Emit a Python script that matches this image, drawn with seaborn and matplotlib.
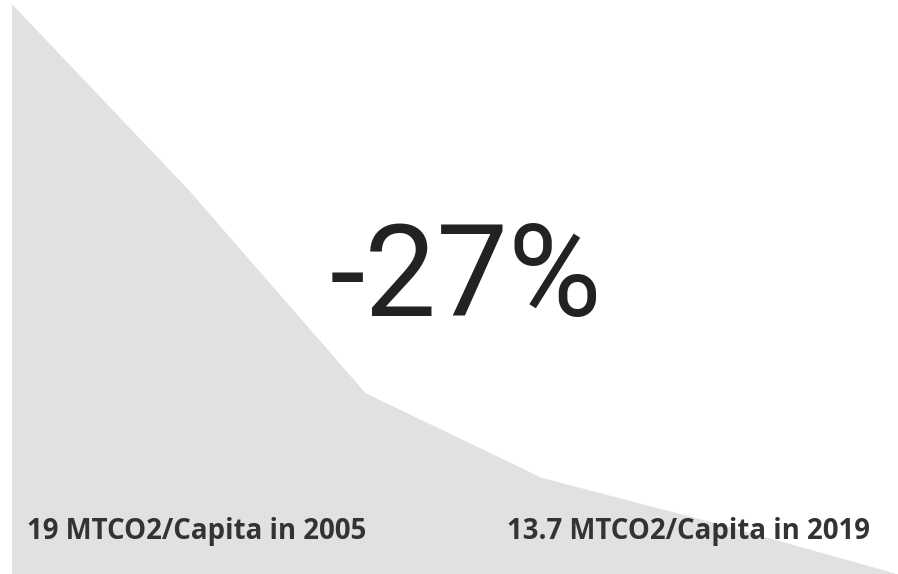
import matplotlib
matplotlib.use("Agg")
import matplotlib.pyplot as plt
import seaborn as sns
import pandas as pd

# Per-capita emissions trend (MTCO2 per capita), evenly spaced periods 2005 -> 2019
periods = [0, 1, 2, 3, 4, 5]
emissions = [19.0, 17.27, 15.38, 14.59, 14.16, 13.7]

headline = "-27%"
start_label = "19 MTCO2/Capita in 2005"
end_label = "13.7 MTCO2/Capita in 2019"

df = pd.DataFrame({"period": periods, "emissions": emissions})

sns.set_theme(style="white")
plt.rcParams["font.family"] = ["Open Sans", "DejaVu Sans"]

fig = plt.figure(figsize=(8.98, 5.74), dpi=100)
ax = fig.add_axes([12 / 898, 0.0, (895 - 12) / 898, 1.0])

area_color = "#e1e1e1"
sns.lineplot(data=df, x="period", y="emissions", ax=ax, color=area_color, linewidth=0.8)
ax.fill_between(df["period"], df["emissions"], 13.0, color=area_color, linewidth=0)

ax.set_xlim(periods[0], periods[-1])
ax.set_ylim(13.7, 19.047)
ax.set_axis_off()

fig.text(466 / 898, 1 - 281 / 574, headline, fontsize=92, fontfamily="Roboto",
         fontweight="normal", color="#222222", ha="center", va="center")
fig.text(27 / 898, 1 - 531 / 574, start_label, fontsize=19.9, fontweight="bold",
         color="#333333", ha="left", va="center")
fig.text(870 / 898, 1 - 531 / 574, end_label, fontsize=19.9, fontweight="bold",
         color="#333333", ha="right", va="center")

fig.savefig("out.png", dpi=100, facecolor="white")
